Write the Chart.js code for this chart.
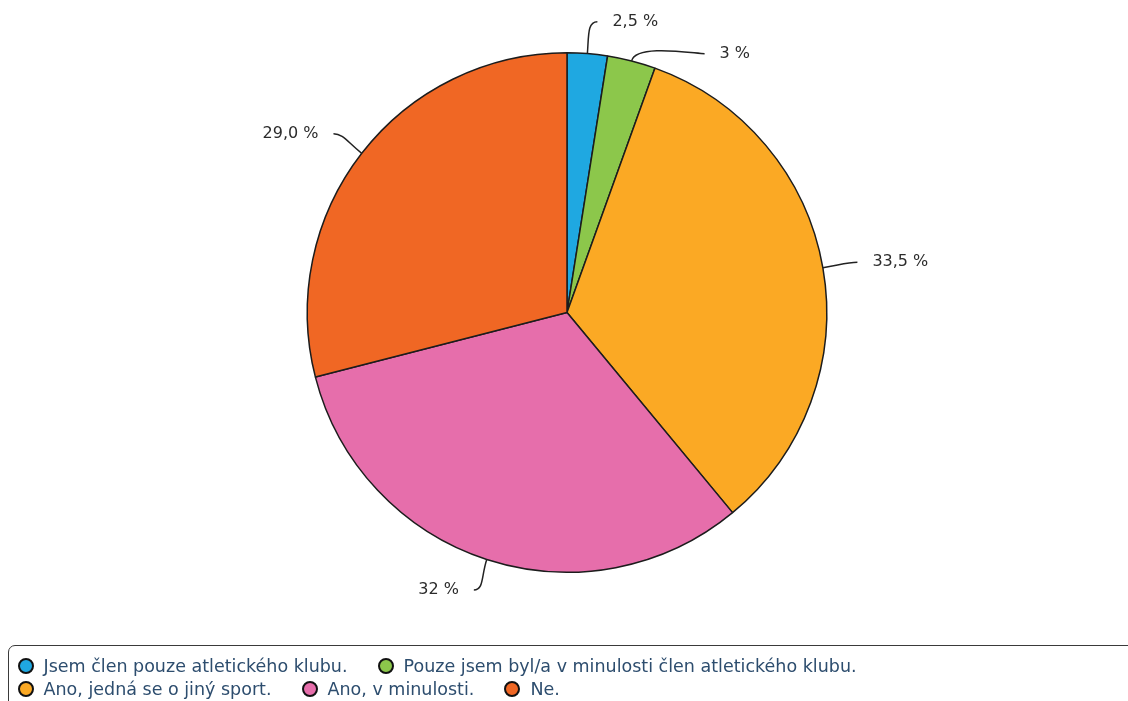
<!DOCTYPE html>
<html>
<head>
<meta charset="utf-8">
<script src="https://cdn.jsdelivr.net/npm/chart.js@4.4.1/dist/chart.umd.min.js"></script>
<style>
  html, body { margin: 0; padding: 0; background: #fff; overflow: hidden; }
  #wrap { position: relative; width: 1128px; height: 701px; }
  #legendBox {
    position: absolute; left: 8px; top: 645px; width: 1140px; height: 80px;
    box-sizing: border-box; border: 1.5px solid #3a3a3a; border-radius: 7px;
    padding: 8px 0 0 8.5px;
  }
  #legend {
    width: 1040px; display: flex; flex-wrap: wrap; align-content: flex-start;
    font-family: 'DejaVu Sans', sans-serif; font-size: 17.5px; color: #2d4d6e;
  }
  #legend .item { display: flex; align-items: center; height: 23.5px; margin-right: 30px; white-space: nowrap; }
  #legend .dot {
    width: 16px; height: 16px; box-sizing: border-box; border-radius: 50%;
    border: 2px solid #111; margin-right: 10px;
  }
</style>
</head>
<body>
<div id="wrap">
  <canvas id="pieChart"></canvas>
  <div id="legendBox"><div id="legend"></div></div>
</div>
<script>
const answers = [
  'Jsem člen pouze atletického klubu.',
  'Pouze jsem byl/a v minulosti člen atletického klubu.',
  'Ano, jedná se o jiný sport.',
  'Ano, v minulosti.',
  'Ne.'
];
const shares = [2.5, 3, 33.5, 32, 29];
const shareLabels = ['2,5 %', '3 %', '33,5 %', '32 %', '29,0 %'];
const sliceColors = ['#1fa8e1', '#8cc74b', '#fba924', '#e66eab', '#f06724'];

Chart.defaults.font.family = "'DejaVu Sans', sans-serif";

// percentage labels outside the pie, joined to the slices by curved leader lines
const outsideLabels = {
  id: 'outsideLabels',
  afterDatasetsDraw(chart) {
    const ctx = chart.ctx;
    const arcs = chart.getDatasetMeta(0).data;
    const items = arcs.map((arc, i) => {
      const p = arc.getProps(['x', 'y', 'startAngle', 'endAngle', 'outerRadius'], true);
      const mid = (p.startAngle + p.endAngle) / 2;
      const dx = Math.cos(mid), dy = Math.sin(mid);
      const R = p.outerRadius + 32;
      return {
        i, cx: p.x, cy: p.y, R, dx, dy,
        side: dx >= 0 ? 1 : -1,
        ex: p.x + p.outerRadius * dx,
        ey: p.y + p.outerRadius * dy,
        ly: p.y + R * dy
      };
    });

    // push labels apart on each side, then put them back on the outer circle
    [1, -1].forEach(side => {
      const list = items.filter(it => it.side === side).sort((a, b) => a.ly - b.ly);
      let prev = -Infinity;
      list.forEach(it => {
        it.ly = Math.max(it.ly, 20, prev + 32);
        prev = it.ly;
        const off = Math.sqrt(Math.max(0, it.R * it.R - (it.ly - it.cy) ** 2));
        let lx = it.cx + side * (off + 3);
        lx = side > 0 ? Math.max(lx, it.ex + 10) : Math.min(lx, it.ex - 10);
        it.lx = lx;
      });
    });

    ctx.save();
    ctx.strokeStyle = '#222';
    ctx.lineWidth = 1.5;
    ctx.fillStyle = '#2b2b2b';
    ctx.font = "16px 'DejaVu Sans', sans-serif";
    ctx.textBaseline = 'middle';
    items.forEach(it => {
      ctx.beginPath();
      ctx.moveTo(it.ex, it.ey);
      ctx.bezierCurveTo(it.ex + it.dx * 18, it.ey + it.dy * 18,
                        it.lx - it.side * 10, it.ly, it.lx, it.ly);
      ctx.stroke();
      ctx.textAlign = it.side > 0 ? 'left' : 'right';
      ctx.fillText(shareLabels[it.i], it.lx + it.side * 15, it.ly);
    });
    ctx.restore();
  }
};

// legend built as html under the pie
const htmlLegend = {
  id: 'htmlLegend',
  afterUpdate(chart) {
    const box = document.getElementById('legend');
    box.innerHTML = '';
    const items = chart.options.plugins.legend.labels.generateLabels(chart);
    items.forEach(item => {
      const el = document.createElement('span');
      el.className = 'item';
      const dot = document.createElement('span');
      dot.className = 'dot';
      dot.style.background = item.fillStyle;
      const txt = document.createElement('span');
      txt.textContent = item.text;
      el.appendChild(dot);
      el.appendChild(txt);
      box.appendChild(el);
    });
  }
};

new Chart(document.getElementById('pieChart'), {
  type: 'pie',
  data: {
    labels: answers,
    datasets: [{
      data: shares,
      backgroundColor: sliceColors,
      borderColor: '#1c1c1c',
      borderWidth: 1.5,
      hoverBorderWidth: 1.5
    }]
  },
  options: {
    responsive: true,
    maintainAspectRatio: false,
    animation: false,
    events: [],
    layout: { padding: { top: 52, bottom: 128, left: 6, right: 0 } },
    plugins: {
      legend: { display: false },
      tooltip: { enabled: false }
    }
  },
  plugins: [outsideLabels, htmlLegend]
});
</script>
</body>
</html>
